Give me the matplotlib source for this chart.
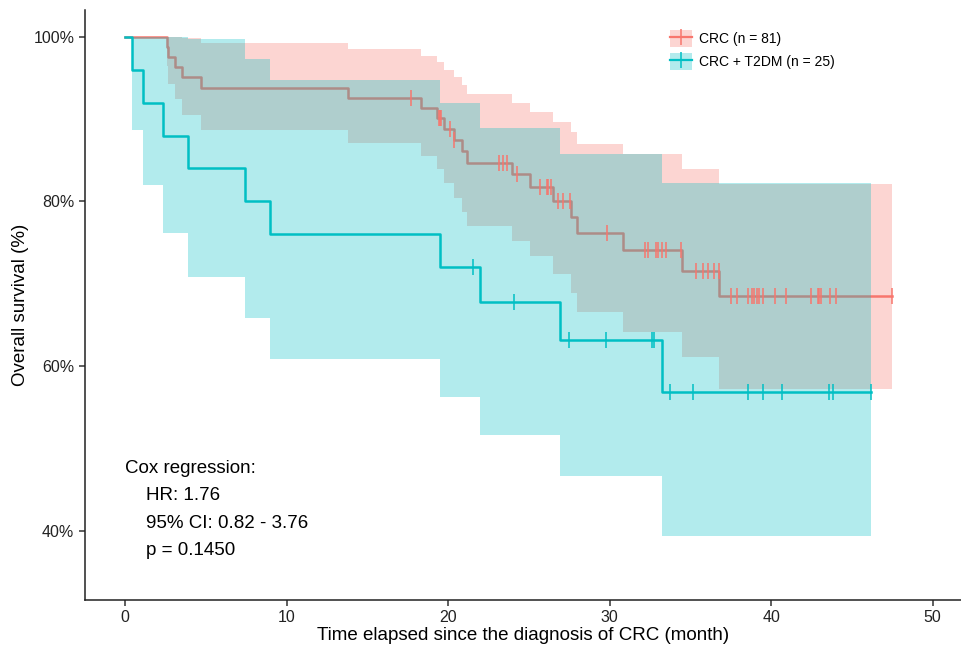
import matplotlib
matplotlib.use("Agg")
import matplotlib.pyplot as plt
from matplotlib.patches import Patch
from matplotlib.lines import Line2D
from matplotlib.ticker import FuncFormatter

plt.rcParams['font.family'] = ['Liberation Sans', 'DejaVu Sans']

RED = '#F8766D'
TEAL = '#00BFC4'

# CRC (n = 81): step times (months), survival and 95% CI (%)
crc_time = [0, 2.58, 2.68, 3.10, 3.51, 4.71, 13.79, 18.33, 19.30, 19.77, 20.37,
            20.87, 21.16, 23.98, 25.05, 26.47, 27.60, 27.97, 30.82, 34.47, 36.80]
crc_surv = [100, 98.8, 97.5, 96.3, 95.1, 93.8, 92.6, 91.3, 90.1, 88.8, 87.5,
            86.1, 84.7, 83.3, 81.7, 80.0, 78.1, 76.2, 74.1, 71.6, 68.5]
crc_upper = [100, 100, 100, 100, 99.9, 99.2, 98.5, 97.7, 96.9, 96.0, 95.1,
             94.1, 93.1, 92.0, 90.9, 89.7, 88.4, 87.0, 85.7, 83.9, 82.1]
crc_lower = [100, 96.4, 94.2, 92.4, 90.5, 88.7, 87.1, 85.5, 83.9, 82.2, 80.4,
             78.7, 77.0, 75.2, 73.4, 71.2, 68.9, 66.6, 64.2, 61.1, 57.2]
crc_end = 47.51
crc_censor = [17.71, 19.45, 19.5, 19.55, 20.12, 20.37, 23.16, 23.42, 23.67, 24.25,
              25.70, 26.10, 26.20, 26.35, 26.80, 27.10, 27.55, 29.86, 32.20, 32.35,
              32.88, 32.98, 33.25, 33.50, 34.42, 35.34, 35.76, 36.10, 36.47, 36.75,
              37.50, 37.88, 38.60, 38.80, 38.95, 39.11, 39.28, 39.52, 40.25, 40.93,
              42.48, 42.89, 42.99, 43.10, 43.65, 44.02, 47.51]

# CRC + T2DM (n = 25)
dm_time = [0, 0.41, 1.10, 2.33, 3.92, 7.43, 8.98, 19.47, 21.95, 26.93, 33.27]
dm_surv = [100, 96, 92, 88, 84, 80, 76, 72, 67.8, 63.2, 56.9]
dm_upper = [100, 100, 100, 100, 99.7, 97.3, 94.7, 92.0, 88.9, 85.7, 82.2]
dm_lower = [100, 88.7, 82.0, 76.2, 70.8, 65.8, 60.9, 56.3, 51.6, 46.6, 39.35]
dm_end = 46.17
dm_censor = [21.57, 24.09, 27.49, 29.78, 32.61, 32.76, 33.75, 35.14, 38.56,
             39.49, 40.66, 43.61, 43.86, 46.17]

labels = ['CRC (n = 81)', 'CRC + T2DM (n = 25)']
cox_title = 'Cox regression:'
cox_lines = ['HR: 1.76', '95% CI: 0.82 - 3.76', 'p = 0.1450']


def surv_at(times, surv, t):
    val = surv[0]
    for ti, si in zip(times, surv):
        if ti <= t:
            val = si
    return val


fig = plt.figure(figsize=(9.62, 6.46), dpi=100)
ax = fig.add_axes([84.7 / 962, 1 - 600 / 646, (962 - 84.7) / 962, (600 - 10) / 646])

groups = [
    (crc_time, crc_surv, crc_upper, crc_lower, crc_end, crc_censor, RED),
    (dm_time, dm_surv, dm_upper, dm_lower, dm_end, dm_censor, TEAL),
]

# lines first, then ribbons on top (as in ggsurvplot), then censor marks
for t, s, up, lo, end, cens, col in groups:
    ax.step(t + [end], s + [s[-1]], where='post', color=col, lw=1.8, zorder=2)
for t, s, up, lo, end, cens, col in groups:
    ax.fill_between(t + [end], lo + [lo[-1]], up + [up[-1]], step='post',
                    color=col, alpha=0.3, lw=0, zorder=3)
for t, s, up, lo, end, cens, col in groups:
    ys = [surv_at(t, s, c) for c in cens]
    ax.plot(cens, ys, ls='none', marker='|', ms=12, mew=1.1, color=col, zorder=4)

ax.set_xlim(-2.5, 51.82)
ax.set_ylim(31.6, 103.24)
ax.set_xticks([0, 10, 20, 30, 40, 50])
ax.set_yticks([40, 60, 80, 100])
ax.yaxis.set_major_formatter(FuncFormatter(lambda v, p: '%d%%' % v))
for side in ['top', 'right']:
    ax.spines[side].set_visible(False)
for side in ['left', 'bottom']:
    ax.spines[side].set_linewidth(1.1)
    ax.spines[side].set_color('#222222')
ax.tick_params(length=4, width=1.1, color='#333333', labelsize=11.5, labelcolor='#222222')
ax.set_xlabel('Time elapsed since the diagnosis of CRC (month)', fontsize=13.5, labelpad=1.5)
ax.set_ylabel('Overall survival (%)', fontsize=13.5, labelpad=3)

ax.text(0, 47.55, cox_title, fontsize=13.5, va='center', ha='left')
for i, line in enumerate(cox_lines):
    ax.text(1.3, 44.3 - i * 3.37, line, fontsize=13.5, va='center', ha='left')

handles = [
    (Patch(facecolor=RED, alpha=0.3, lw=0),
     Line2D([], [], color=RED, lw=1.6, marker='+', ms=12, mew=1.1)),
    (Patch(facecolor=TEAL, alpha=0.3, lw=0),
     Line2D([], [], color=TEAL, lw=1.6, marker='+', ms=12, mew=1.1)),
]
ax.legend(handles, labels, loc='upper left', bbox_to_anchor=(670 / 962, 1 - 30 / 646),
          bbox_transform=fig.transFigure, frameon=False, fontsize=10,
          handlelength=1.55, handleheight=1.55, handletextpad=0.55,
          labelspacing=0.4, borderpad=0, borderaxespad=0)

fig.savefig('out.png', dpi=100)
